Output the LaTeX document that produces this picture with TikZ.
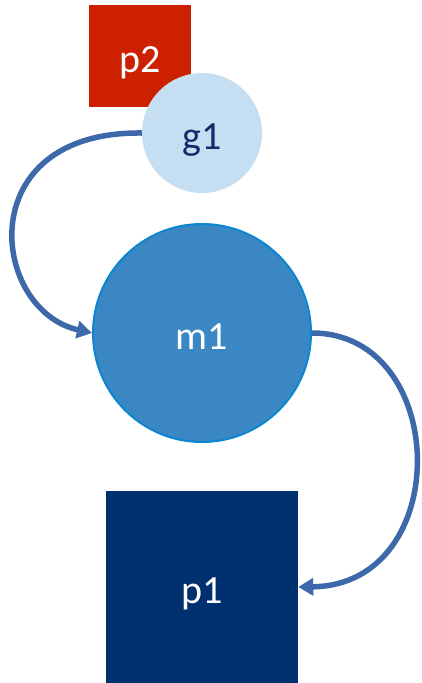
\documentclass[tikz,border=0pt]{standalone}
\usepackage{fontspec}
\setmainfont{Carlito}
\usetikzlibrary{arrows.meta}

\definecolor{pred}{HTML}{CC2000}
\definecolor{gblue}{HTML}{C6DEF1}
\definecolor{gtext}{HTML}{0F2D69}
\definecolor{mblue}{HTML}{3A87C4}
\definecolor{medge}{HTML}{0C86D0}
\definecolor{pnavy}{HTML}{003070}
\definecolor{flow}{HTML}{3D68AA}

\tikzset{
  lbl/.style={font=\fontsize{40}{44}\selectfont,text height=32pt,text depth=0pt},
  flowarrow/.style={draw=flow,line width=5.5pt,-{Triangle[length=15pt,width=17pt]}}
}

\begin{document}
\begin{tikzpicture}[x=1pt,y=-1pt]
  \useasboundingbox (0,0) rectangle (421,683);
  \node[fill=pred,minimum size=102pt,inner sep=0pt,text=white,lbl] (p2) at (140,56) {p2};
  \node[circle,fill=gblue,minimum size=120pt,inner sep=0pt,text=gtext,lbl] (g1) at (202,133) {g1};
  \node[circle,fill=mblue,draw=medge,line width=2pt,minimum size=218pt,inner sep=0pt,text=white,lbl] (m1) at (202,333) {m1};
  \node[fill=pnavy,minimum size=192pt,inner sep=0pt,text=white,lbl] (p1) at (202,587) {p1};
  % connectors
  \draw[flowarrow] (g1.west) .. controls (-30,131) and (-10,310) .. (m1.west);
  \draw[flowarrow] (m1.east) .. controls (450,333) and (455,585) .. (p1.east);
\end{tikzpicture}
\end{document}
